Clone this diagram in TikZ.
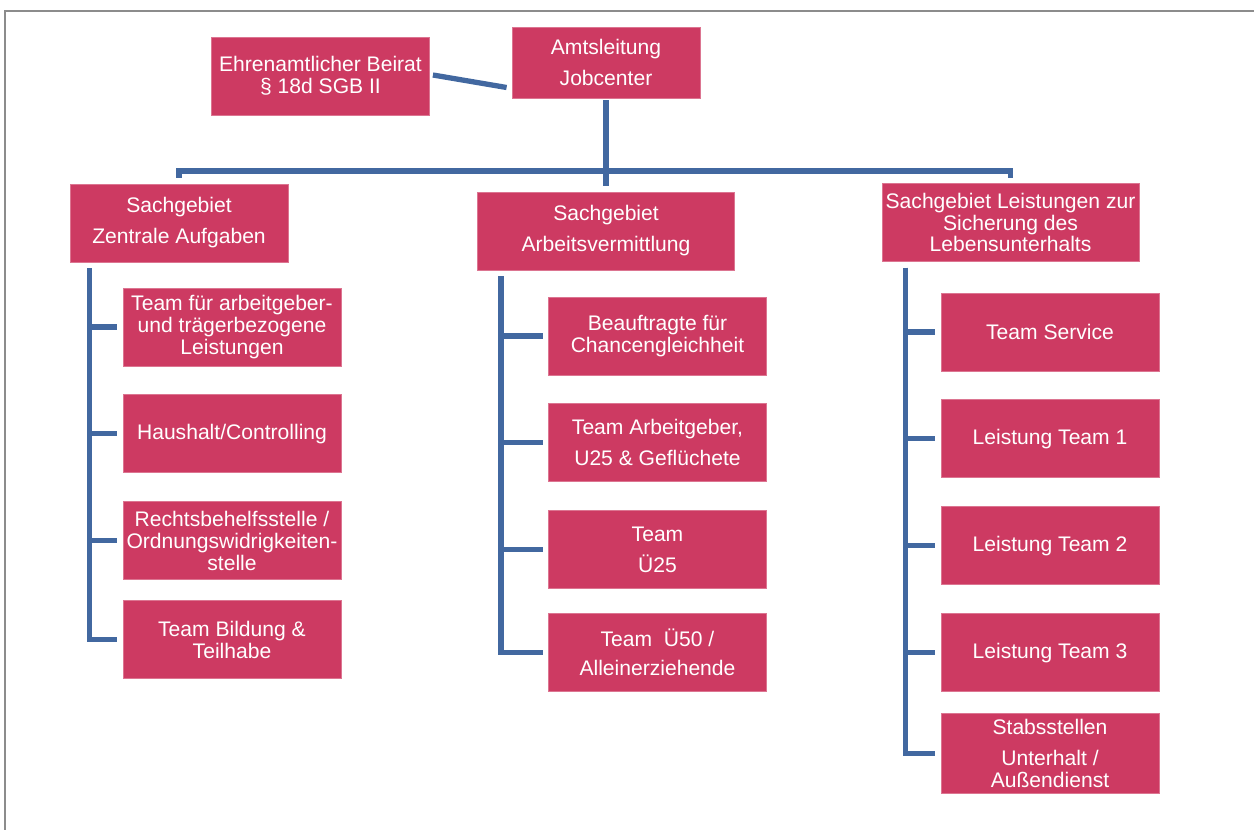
\documentclass[tikz,border=0pt]{standalone}
\usepackage{fontspec}
\setmainfont{Liberation Sans}
\usetikzlibrary{positioning,calc}
\definecolor{boxred}{RGB}{205,58,98}
\definecolor{lineblue}{RGB}{66,104,160}
\definecolor{framegray}{RGB}{140,140,140}

\begin{document}
\begin{tikzpicture}[x=0.02cm, y=-0.02cm, node distance=0.56cm,
  unit/.style={rectangle, fill=boxred, draw=boxred!70!white, line width=0.5pt, text=white, align=center, inner sep=1pt, minimum width=4.36cm, minimum height=1.56cm},
  head/.style={unit, minimum width=5.14cm},
  spaced/.style={font=\fontsize{12}{17.6}\selectfont},
  bar/.style={draw=lineblue, line width=3pt}]
  \tikzstyle{every node}=[font=\fontsize{12}{12.5}\selectfont]

  \useasboundingbox (0,0) rectangle (1254,830);
  \draw[framegray, line width=1.1pt] (5,840) -- (5,11) -- (1260,11);

  \node[unit, spaced, minimum width=3.76cm, minimum height=1.42cm] (amt) at (606,62.5) {Amtsleitung\\Jobcenter};
  \node[unit] (beirat) at (320.5,76) {Ehrenamtlicher Beirat\\§ 18d SGB II};

  \node[unit, spaced] (za) at (179,223) {Sachgebiet\\Zentrale Aufgaben};
  \node[head, spaced] (av) at (606,231) {Sachgebiet\\Arbeitsvermittlung};
  \node[head] (ll) at (1010.5,222.5) {Sachgebiet Leistungen zur\\Sicherung des\\Lebensunterhalts};

  % Zentrale Aufgaben
  \node[unit] (za1) at (232,327) {Team für arbeitgeber-\\und trägerbezogene\\Leistungen};
  \node[unit] (za2) [below=of za1] {Haushalt/Controlling};
  \node[unit] (za3) [below=of za2] {Rechtsbehelfsstelle /\\Ordnungswidrigkeiten-\\stelle};
  \node[unit] (za4) [below=0.4cm of za3] {Team Bildung \&\\Teilhabe};

  % Arbeitsvermittlung
  \node[unit] (av1) at (657.5,336) {Beauftragte für\\Chancengleichheit};
  \node[unit, spaced] (av2) [below=of av1] {Team Arbeitgeber,\\U25 \& Geflüchete};
  \node[unit, spaced] (av3) [below=of av2] {Team\\Ü25};
  \node[unit] (av4) [below=0.48cm of av3] {Team\ \ Ü50 /\\[4pt]Alleinerziehende};

  % Leistungen zur Sicherung des Lebensunterhalts
  \node[unit] (ll1) at (1050,332) {Team Service};
  \node[unit] (ll2) [below=of ll1] {Leistung Team 1};
  \node[unit] (ll3) [below=of ll2] {Leistung Team 2};
  \node[unit] (ll4) [below=of ll3] {Leistung Team 3};
  \node[unit, minimum height=1.6cm] (ll5) [below=0.42cm of ll4] {Stabsstellen\\[5.5pt]Unterhalt /\\Außendienst};

  \coordinate (bus) at (606,171);

  \draw[bar] ($(beirat.east)+(3,-1)$) -- ($(amt.west)+(-5,25)$);
  \draw[bar, shorten <=1pt, shorten >=3pt] (amt) -- (av);
  \draw[bar] ($(za.north)+(0,-6)$) |- (bus) -| ($(ll.north)+(0,-5)$);

  \foreach \k in {za1,za2,za3,za4}
    \draw[bar] ($(za.south west)+(20,6)$) |- ([xshift=-3pt]\k.west);
  \foreach \k in {av1,av2,av3,av4}
    \draw[bar] ($(av.south west)+(24,6)$) |- ([xshift=-3pt]\k.west);
  \foreach \k in {ll1,ll2,ll3,ll4,ll5}
    \draw[bar] ($(ll.south west)+(24,6)$) |- ([xshift=-3pt]\k.west);

\end{tikzpicture}
\end{document}
